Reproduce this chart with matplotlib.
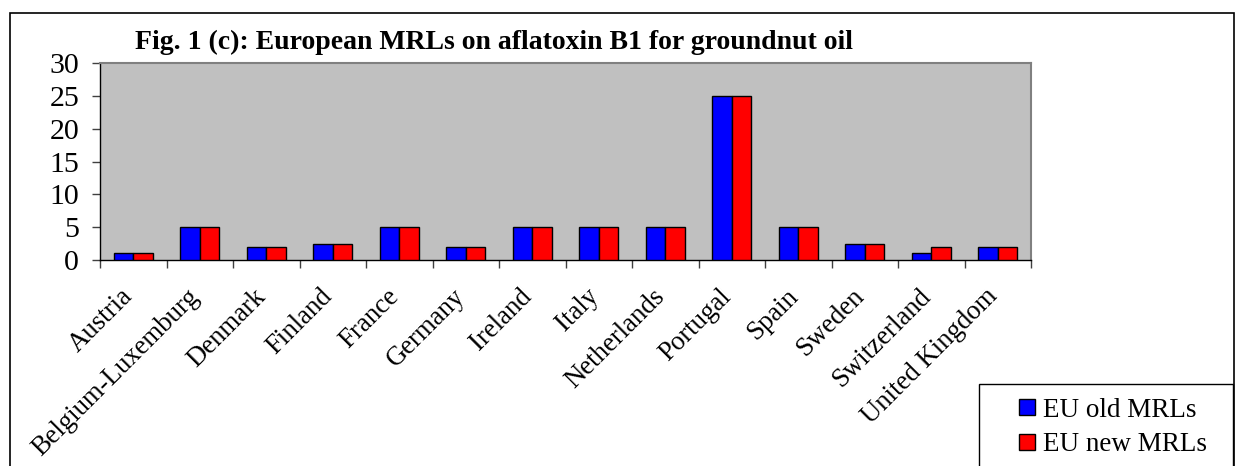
import matplotlib
matplotlib.use("Agg")
import matplotlib.pyplot as plt
from matplotlib.patches import Rectangle
from matplotlib.lines import Line2D
import matplotlib.transforms as mtransforms
import numpy as np

countries = ["Austria", "Belgium-Luxemburg", "Denmark", "Finland", "France",
             "Germany", "Ireland", "Italy", "Netherlands", "Portugal", "Spain",
             "Sweden", "Switzerland", "United Kingdom"]
old_mrls = [1, 5, 2, 2.5, 5, 2, 5, 5, 5, 25, 5, 2.5, 1, 2]
new_mrls = [1, 5, 2, 2.5, 5, 2, 5, 5, 5, 25, 5, 2.5, 2, 2]
series_names = ["EU old MRLs", "EU new MRLs"]
title = "Fig. 1 (c): European MRLs on aflatoxin B1 for groundnut oil"
yticks = [0, 5, 10, 15, 20, 25, 30]

plt.rcParams['font.family'] = ['Liberation Serif', 'DejaVu Serif']

W, H = 1238, 466
fig = plt.figure(figsize=(W / 100, H / 100), dpi=100)
fig.patch.set_facecolor("white")

# outer border
fig.patches.append(Rectangle((10 / W, -0.05), (1234 - 10) / W, 1.05 - 13 / H,
                             transform=fig.transFigure, fill=False,
                             edgecolor="black", linewidth=1.2, zorder=0))

ax = fig.add_axes([100 / W, 1 - 260 / H, (1031 - 100) / W, (260 - 63) / H])
ax.set_facecolor("#C0C0C0")

n = len(countries)
centers = np.arange(n) + 0.5
bw = 0.29
ax.bar(centers - bw / 2, old_mrls, bw, color="#0000FF", edgecolor="black",
       linewidth=1.0, label=series_names[0], zorder=3)
ax.bar(centers + bw / 2, new_mrls, bw, color="#FF0000", edgecolor="black",
       linewidth=1.0, label=series_names[1], zorder=3)

ax.set_xlim(0, n)
ax.set_ylim(0, 30)
ax.set_yticks(yticks)
ax.set_yticklabels([str(v) for v in yticks], fontsize=21.5)
ax.tick_params(axis="y", direction="out", length=6, width=1, pad=9, color="#404040")

ax.set_xticks(np.arange(n + 1))
ax.set_xticklabels([])
ax.tick_params(axis="x", which="major", direction="out", length=6, width=1, color="#404040")
ax.set_xticks(centers, minor=True)
ax.set_xticklabels(countries, minor=True, rotation=45, ha="right", va="center",
                   rotation_mode="anchor", fontsize=19.3)
ax.tick_params(axis="x", which="minor", length=0, pad=28)
offset = mtransforms.ScaledTranslation(-4 / 100, 6 / 100, fig.dpi_scale_trans)
for lab in ax.get_xticklabels(minor=True):
    lab.set_transform(lab.get_transform() + offset)

for s in ["top", "right"]:
    ax.spines[s].set_color("#808080")
    ax.spines[s].set_linewidth(1.5)
for s in ["left", "bottom"]:
    ax.spines[s].set_color("black")
    ax.spines[s].set_linewidth(1.0)

fig.text(494 / W, 1 - 42 / H, title, ha="center", va="center",
         fontsize=20, fontweight="bold")

handles = [Line2D([], [], linestyle="none", marker="s", markersize=12,
                  markerfacecolor=c, markeredgecolor="black", markeredgewidth=1.0)
           for c in ["#0000FF", "#FF0000"]]
leg_h = 100 / H
leg = fig.legend(handles, series_names, loc="upper left",
                 bbox_to_anchor=(979 / W, 1 - 384 / H - leg_h, 254 / W, leg_h),
                 mode="expand", fontsize=19.5,
                 frameon=True, fancybox=False, framealpha=1, edgecolor="black",
                 borderpad=0.5, handlelength=2.52, handletextpad=-0.65,
                 labelspacing=0.35, borderaxespad=0)
leg.get_frame().set_linewidth(1.0)

fig.savefig("out.png", dpi=100)
